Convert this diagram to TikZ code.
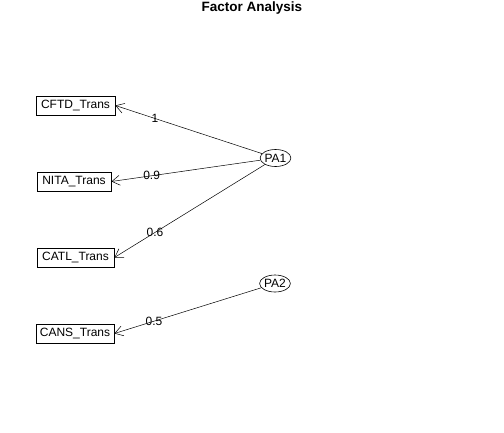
\documentclass[tikz,border=0pt]{standalone}
\usepackage{fontspec}
\setmainfont{Liberation Sans}
\usetikzlibrary{arrows.meta,shapes.geometric}
\begin{document}
\begin{tikzpicture}[x=1pt,y=-1pt,
  var/.style={draw, line width=0.8pt, inner sep=0pt, minimum height=19pt, font=\fontsize{12}{14}\selectfont},
  fac/.style={draw, ellipse, line width=0.6pt, inner sep=0pt, minimum width=25pt, minimum height=17pt, font=\fontsize{12}{14}\selectfont},
  load/.style={-{Straight Barb[length=8pt,width=10pt]}, line width=0.5pt},
  lbl/.style={pos=0.73, inner sep=0pt, font=\fontsize{12}{14}\selectfont}]
\useasboundingbox (0,0) rectangle (504,432);
\node[font=\bfseries\fontsize{13.5}{15}\selectfont] (title) at (252,8) {Factor Analysis};
\node[var, minimum width=79pt] (cftd) at (75.5,105.5) {CFTD\_Trans};
\node[var, minimum width=74pt] (nita) at (74,181.5) {NITA\_Trans};
\node[var, minimum width=77pt] (catl) at (75.5,257.5) {CATL\_Trans};
\node[var, minimum width=78pt] (cans) at (75,333.5) {CANS\_Trans};
\node[fac] (pa1) at (275.5,158) {PA1};
\node[fac] (pa2) at (275,283.5) {PA2};
\draw[load] (pa1) -- node[lbl] {1} (cftd.east);
\draw[load] (pa1) -- node[lbl] {0.9} (nita.east);
\draw[load] (pa1) -- node[lbl] {0.6} (catl.east);
\draw[load] (pa2) -- node[lbl] {0.5} (cans.east);
\end{tikzpicture}
\end{document}
